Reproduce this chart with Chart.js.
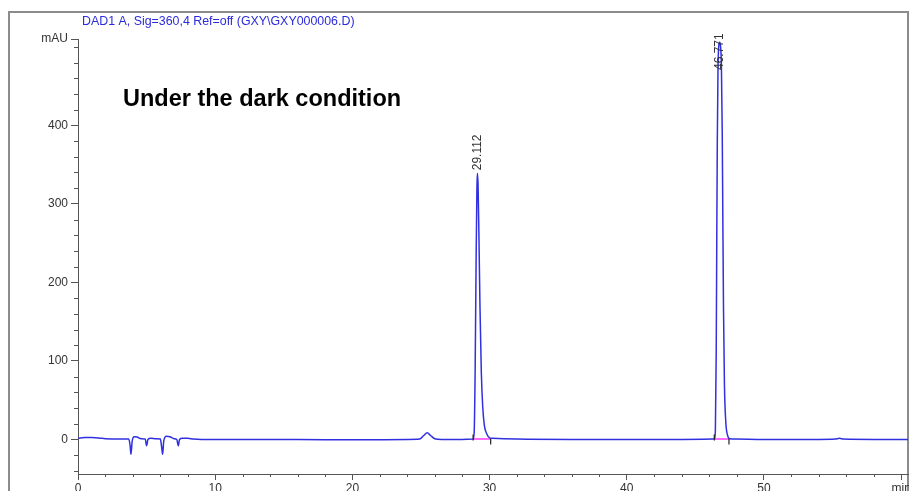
<!DOCTYPE html>
<html>
<head>
<meta charset="utf-8">
<script src="https://cdn.jsdelivr.net/npm/chart.js"></script>
<style>
  html, body { margin: 0; padding: 0; overflow: hidden; background: #fff; }
  canvas { display: block; }
</style>
</head>
<body>
<canvas id="chromatogram" width="909" height="505"></canvas>
<script>
// DAD1 A signal, retention time (min) vs absorbance (mAU)
const traceTime = [
  0, 0.5, 1.0, 1.5, 2.0, 3.0, 3.7, 3.8, 3.86, 3.95, 4.1, 4.3, 4.6, 4.9, 5.0, 5.1, 5.3, 5.7,
  6.0, 6.1, 6.17, 6.25, 6.45, 6.7, 7.0, 7.2, 7.31, 7.4, 7.6, 8.0, 8.4, 9.0, 12, 16, 20, 24,
  24.9, 25.2, 25.45, 25.7, 26.0, 26.5, 28,
  28.80, 28.88, 28.95, 29.02, 29.08, 29.112, 29.16, 29.22, 29.30, 29.40, 29.50, 29.62, 29.80, 30.00, 30.20,
  32, 36, 40, 44,
  46.38, 46.46, 46.52, 46.56, 46.60, 46.65, 46.71, 46.771, 46.83, 46.90, 46.96, 47.00, 47.05, 47.12, 47.22, 47.35, 47.50,
  48, 50, 54, 55.2, 55.5, 55.8, 58, 60.5
];
const traceMAU = [
  1.5, 2.5, 2.5, 2, 1, 0.5, 0.5, -8, -19, -2, 3.5, 3, 1, 0.5, -8, 0, 1.5, 1,
  0.5, -10, -19, -2, 4, 3.5, 1, 0, -8, 0, 1.5, 1.5, 0.5, 0, 0, 0, -0.5, 0,
  0.5, 5, 8.5, 5, 1, 0, 0,
  0.5, 10, 90, 230, 322, 339, 325, 265, 170, 85, 42, 18, 7, 2, 1.5,
  0.5, 0, 0, 0,
  0.5, 12, 110, 250, 380, 470, 502, 506, 502, 475, 390, 290, 170, 70, 22, 5, 1,
  0.5, 0, 0, 0.5, 1.5, 0.5, 0, 0
];

// integrated peaks: retention times, baseline start/end
const peakTimes = [29.112, 46.771];
const peakStart = [28.80, 46.38];
const peakEnd = [30.08, 47.45];

// axis ticks
const xMajor = [0, 10, 20, 30, 40, 50, 60];
const xLabels = ['0', '10', '20', '30', '40', '50', 'min'];
const yMajor = [0, 100, 200, 300, 400, 510];
const yLabels = ['0', '100', '200', '300', '400', 'mAU'];
const xMinorStep = 2;
const yMinorStep = 20;

const titleText = 'DAD1 A, Sig=360,4 Ref=off (GXY\\GXY000006.D)';
const noteText = 'Under the dark condition';

const tracePoints = traceTime.map((t, i) => ({ x: t, y: traceMAU[i] }));
const peakHeights = peakTimes.map(t => traceMAU[traceTime.indexOf(t)]);

// pink baselines under each peak, split by nulls
const baselinePoints = [];
peakStart.forEach((s, i) => {
  baselinePoints.push({ x: s, y: 0.5 }, { x: peakEnd[i], y: 0.5 }, { x: peakEnd[i] + 0.01, y: null });
});
const startMarks = peakStart.map(s => ({ x: s, y: 2.5 }));
const endMarks = peakEnd.map(e => ({ x: e, y: -2.5 }));

const FONT = '"Liberation Sans", Arial, sans-serif';

const overlay = {
  id: 'overlay',
  beforeDraw(chart) {
    const ctx = chart.ctx;
    ctx.save();
    ctx.strokeStyle = '#8c8c8c';
    ctx.lineWidth = 2;
    ctx.beginPath();
    ctx.moveTo(9, 600);
    ctx.lineTo(9, 12);
    ctx.lineTo(908, 12);
    ctx.lineTo(908, 600);
    ctx.stroke();
    ctx.restore();
  },
  afterDraw(chart) {
    const ctx = chart.ctx;
    const xs = chart.scales.x, ys = chart.scales.y;
    const area = chart.chartArea;
    ctx.save();
    // minor ticks
    ctx.strokeStyle = '#555';
    ctx.lineWidth = 1;
    ctx.beginPath();
    for (let v = 0; v <= 60; v += xMinorStep) {
      if (xMajor.includes(v)) continue;
      const px = Math.round(xs.getPixelForValue(v)) + 0.5;
      ctx.moveTo(px, area.bottom);
      ctx.lineTo(px, area.bottom + 3);
    }
    for (let v = -40; v <= 500; v += yMinorStep) {
      if (yMajor.includes(v)) continue;
      const py = Math.round(ys.getPixelForValue(v)) + 0.5;
      ctx.moveTo(area.left - 4, py);
      ctx.lineTo(area.left, py);
    }
    ctx.stroke();

    // signal title and annotation
    ctx.fillStyle = '#2b2bdc';
    ctx.font = '12.4px ' + FONT;
    ctx.textAlign = 'left';
    ctx.textBaseline = 'alphabetic';
    ctx.fillText(titleText, 82, 25);
    ctx.fillStyle = '#000';
    ctx.font = 'bold 23.5px ' + FONT;
    ctx.fillText(noteText, 123, 106);

    // retention time labels above peaks
    ctx.fillStyle = '#333';
    ctx.font = '12px ' + FONT;
    ctx.textBaseline = 'middle';
    peakTimes.forEach((t, i) => {
      const px = xs.getPixelForValue(t);
      const py = Math.max(ys.getPixelForValue(peakHeights[i]) - 3, area.top + 31);
      ctx.save();
      ctx.translate(px, py);
      ctx.rotate(-Math.PI / 2);
      ctx.fillText(t.toFixed(3), 0, 0);
      ctx.restore();
    });
    ctx.restore();
  }
};

new Chart(document.getElementById('chromatogram'), {
  type: 'line',
  data: {
    datasets: [
      {
        data: baselinePoints,
        borderColor: '#ff3cff',
        borderWidth: 1.4,
        pointRadius: 0,
        spanGaps: false,
        order: 2
      },
      {
        data: tracePoints,
        borderColor: '#3030e0',
        borderWidth: 1.5,
        pointRadius: 0,
        cubicInterpolationMode: 'monotone',
        order: 1
      },
      {
        type: 'scatter',
        data: startMarks.concat(endMarks),
        pointStyle: 'line',
        rotation: 90,
        radius: 3,
        borderColor: '#222',
        borderWidth: 1.2,
        order: 0
      }
    ]
  },
  options: {
    responsive: false,
    animation: false,
    layout: { autoPadding: false, padding: { left: 0, top: 39, right: 1, bottom: 0 } },
    plugins: {
      legend: { display: false },
      tooltip: { enabled: false }
    },
    scales: {
      x: {
        type: 'linear',
        min: 0,
        max: 60.5,
        afterBuildTicks: s => { s.ticks = xMajor.map(v => ({ value: v })); },
        afterFit: s => { s.height = 31; s.paddingLeft = 0; s.paddingRight = 0; },
        ticks: {
          color: '#333',
          font: { family: FONT, size: 12 },
          padding: 1,
          maxRotation: 0,
          autoSkip: false,
          callback: v => xLabels[xMajor.indexOf(v)]
        },
        grid: { drawOnChartArea: false, drawTicks: true, tickLength: 6, tickColor: '#555' },
        border: { color: '#555', width: 1 }
      },
      y: {
        type: 'linear',
        min: -44,
        max: 510,
        afterBuildTicks: s => { s.ticks = yMajor.map(v => ({ value: v })); },
        afterFit: s => { s.width = 78; s.paddingTop = 0; s.paddingBottom = 0; },
        ticks: {
          color: '#333',
          font: { family: FONT, size: 12 },
          padding: 3,
          autoSkip: false,
          callback: v => yLabels[yMajor.indexOf(v)]
        },
        grid: { drawOnChartArea: false, drawTicks: true, tickLength: 7, tickColor: '#555' },
        border: { color: '#555', width: 1 }
      }
    }
  },
  plugins: [overlay]
});
</script>
</body>
</html>
